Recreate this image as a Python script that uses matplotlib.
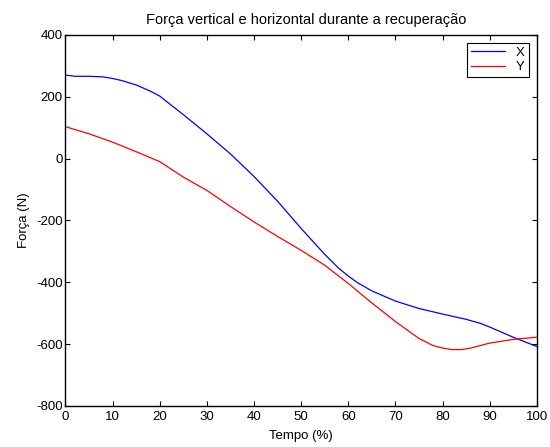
import matplotlib.pyplot as plt

plt.rcParams["font.family"] = ["Liberation Sans", "DejaVu Sans"]
plt.rcParams["axes.unicode_minus"] = False

# values
tempo_x = [0, 2, 5, 8, 10, 12, 15, 18, 20, 25, 30, 35, 40, 45, 50, 55, 58, 60, 62, 65, 70, 75, 80, 85, 88, 90, 95, 100]
forca_x = [270, 266, 266, 264, 259, 252, 238, 218, 202, 142, 80, 15, -58, -138, -226, -310, -355, -380, -402, -428, -461, -485, -503, -520, -533, -545, -578, -608]

tempo_y = [0, 5, 10, 15, 20, 25, 30, 35, 40, 45, 50, 55, 60, 65, 70, 75, 78, 80, 82, 84, 86, 90, 95, 100]
forca_y = [103, 80, 53, 22, -10, -60, -103, -155, -205, -252, -297, -345, -404, -467, -527, -582, -605, -613, -618, -618, -613, -597, -585, -578]

fig = plt.figure(figsize=(5.5, 4.47), dpi=100)
ax = fig.add_axes([0.119, 0.092, 0.857, 0.830])

ax.plot(tempo_x, forca_x, color="#0000ff", lw=0.9, label="X")
ax.plot(tempo_y, forca_y, color="#ff0000", lw=0.9, label="Y")

ax.set_xlim(0, 100)
ax.set_ylim(-800, 400)
ax.set_xticks(range(0, 101, 10))
ax.set_yticks(range(-800, 401, 200))
ax.tick_params(direction="in", top=True, right=True, labelsize=9.5, length=3.5, width=0.8, pad=2)
ax.tick_params(axis="x", pad=4)
for s in ax.spines.values():
    s.set_linewidth(1.0)

ax.set_title("Força vertical e horizontal durante a recuperação", fontsize=10.5, pad=8, x=0.511)
ax.set_xlabel("Tempo (%)", fontsize=9.5, labelpad=5)
ax.set_ylabel("Força (N)", fontsize=9.5, labelpad=4)

leg = ax.legend(loc="upper right", fontsize=9.5, fancybox=False, framealpha=1,
                edgecolor="black", handlelength=2.6, borderpad=0.3, labelspacing=0.15,
                handletextpad=0.8, borderaxespad=0.6)
leg.get_frame().set_linewidth(0.8)

fig.savefig("out.png", dpi=100)
